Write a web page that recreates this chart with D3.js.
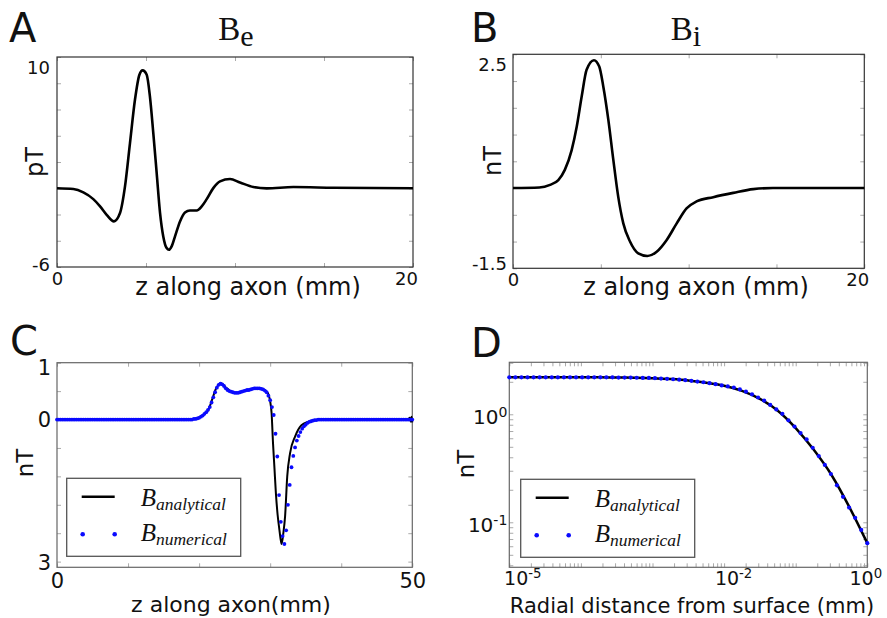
<!DOCTYPE html>
<html>
<head>
<meta charset="utf-8">
<script src="https://cdn.jsdelivr.net/npm/d3@7"></script>
<style>
  html, body { margin: 0; padding: 0; background: #fff; }
  svg { display: block; }
</style>
</head>
<body>
<svg id="fig" width="887" height="618"></svg>
<script>
// ---------- Panel A: extracellular field B_e along the axon (pT) ----------
const aZ  = [0, 0.92, 1.48, 2.04, 2.42, 2.79, 3.20, 3.54, 3.82, 4.10, 4.38, 4.63, 4.81,
             5.04, 5.22, 5.41, 5.60, 5.79, 5.97, 6.16, 6.29, 6.44, 6.63, 6.91, 7.19,
             7.47, 7.85, 8.13, 8.41, 8.78, 9.16, 9.72, 10.28, 11.03, 11.78, 13.28, 15.52, 20];
const aBe = [0, -0.06, -0.32, -0.83, -1.38, -2.02, -2.52, -1.89, 0.14, 3.44, 6.74, 8.65, 8.98,
             8.65, 7.0, 4.2, 1.16, -1.89, -3.67, -4.56, -4.69, -4.43, -3.67, -2.53, -1.84,
             -1.69, -1.69, -1.38, -0.83, 0.01, 0.52, 0.70, 0.44, 0.09, -0.01, 0.09, 0.04, 0];
const aXTicks = [0, 5, 10, 15, 20];
const aYTicks = [-6, -4, -2, 0, 2, 4, 6, 8, 10];
const aXLabels = ["0", "20"];
const aYLabels = ["-6", "10"];

// ---------- Panel B: intracellular field B_i along the axon (nT) ----------
const bZ  = [0, 1.5, 2.11, 2.58, 2.95, 3.34, 3.63, 3.91, 4.19, 4.61, 4.91, 5.14, 5.43, 5.71,
             5.99, 6.28, 6.66, 7.13, 7.65, 8.18, 8.75, 9.32, 9.88, 10.45, 11.4, 12.54, 13.68, 14.8, 20];
const bBi = [0, 0.01, 0.06, 0.15, 0.34, 0.71, 1.15, 1.71, 2.21, 2.39, 2.27, 1.90, 1.27, 0.53,
             -0.16, -0.66, -1.0, -1.22, -1.27, -1.19, -0.97, -0.66, -0.38, -0.25, -0.17, -0.09, -0.02, 0, 0];
const bXTicks = [0, 5, 10, 15, 20];
const bYTicks = [-1.5, -1, -0.5, 0, 0.5, 1, 1.5, 2, 2.5];
const bXLabels = ["0", "20"];
const bYLabels = ["-1.5", "2.5"];

// ---------- Panel C: analytical vs numerical field along a 50 mm axon (nT) ----------
const cZ = [0, 10, 17, 18.7, 19.6, 20.6, 21.3, 21.8, 22.4, 23.1,
            23.7, 24.4, 25.3, 26.3, 27.3, 28.1, 28.8, 29.3, 29.7, 30.0,
            30.2, 30.4, 30.6, 30.8, 31.05, 31.3, 31.6, 31.85, 32.1, 32.4,
            32.8, 33.5, 34.4, 35.4, 36.5, 38, 42, 46, 49.4, 49.65,
            49.8, 49.9, 50];
const cAnalytical = [0, 0, 0, 0, 0.02, 0.08, 0.17, 0.34, 0.55, 0.64,
            0.57, 0.50, 0.47, 0.50, 0.53, 0.55, 0.54, 0.51, 0.46, 0.32,
            0.11, -0.42, -0.85, -1.29, -1.68, -1.94, -2.19, -2.0, -1.70, -1.0,
            -0.59, -0.30, -0.10, -0.04, -0.01, 0, 0, 0, 0, 0.03,
            -0.04, 0.05, -0.05];
// numerical solution sampled every 0.25 mm from 0 to 50 mm
const cStep = 0.25;
const cNumerical = [
  0, 0, 0, 0, 0, 0, 0, 0, 0, 0, 0, 0, 0, 0, 0, 0, 0, 0, 0, 0,
  0, 0, 0, 0, 0, 0, 0, 0, 0, 0, 0, 0, 0, 0, 0, 0, 0, 0, 0, 0,
  0, 0, 0, 0, 0, 0, 0, 0, 0, 0, 0, 0, 0, 0, 0, 0, 0, 0, 0, 0,
  0, 0, 0, 0, 0, 0, 0, 0, 0, 0, 0, 0, 0, 0, 0, 0, 0, 0.01, 0.01, 0.02,
  0.03, 0.05, 0.07, 0.10, 0.13, 0.17, 0.22, 0.30, 0.39, 0.48, 0.56, 0.61, 0.63, 0.62, 0.59, 0.55, 0.52, 0.50, 0.49, 0.48,
  0.47, 0.47, 0.47, 0.48, 0.49, 0.50, 0.51, 0.52, 0.52, 0.53, 0.54, 0.55, 0.55, 0.55, 0.55, 0.54, 0.53, 0.51, 0.48, 0.42,
  0.34, 0.22, 0.08, -0.25, -0.65, -1.33, -1.80, -2.05, -2.19, -1.95, -1.50, -1.15, -0.84, -0.64, -0.49, -0.37, -0.29, -0.22, -0.16, -0.12,
  -0.09, -0.06, -0.04, -0.03, -0.02, -0.01, -0.01, 0, 0, 0, 0, 0, 0, 0, 0, 0, 0, 0, 0, 0,
  0, 0, 0, 0, 0, 0, 0, 0, 0, 0, 0, 0, 0, 0, 0, 0, 0, 0, 0, 0,
  0, 0, 0, 0, 0, 0, 0, 0, 0, 0, 0, 0, 0, 0, 0, 0, 0, 0, 0, 0, 0
];
const cXTicks = [0, 10, 20, 30, 40, 50];
const cYTicks = [-2.5, -2, -1.5, -1, -0.5, 0, 0.5, 1];
const cXLabels = ["0", "50"];
const cYLabels = ["3", "0", "1"];

// ---------- Panel D: field magnitude vs radial distance (log-log) ----------
// analytical curve every quarter decade, 10^-5 .. 10^0 mm
const dAnalytical = [2.20, 2.20, 2.20, 2.20, 2.20, 2.20, 2.19, 2.18, 2.16, 2.12, 2.06,
                     1.96, 1.84, 1.65, 1.39, 1.08, 0.746, 0.471, 0.274, 0.138, 0.064];
// numerical solution at 60 log-spaced radii, 10^-5 .. 10^0 mm
const dNumerical = [2.20, 2.20, 2.20, 2.20, 2.20, 2.20, 2.20, 2.20, 2.20, 2.20,
                    2.20, 2.20, 2.20, 2.20, 2.20, 2.20, 2.20, 2.20, 2.19, 2.19,
                    2.19, 2.18, 2.17, 2.17, 2.16, 2.14, 2.13, 2.11, 2.09, 2.07,
                    2.04, 2.01, 1.98, 1.94, 1.90, 1.85, 1.81, 1.77, 1.70, 1.62,
                    1.53, 1.43, 1.34, 1.22, 1.11, 1.01, 0.88, 0.77, 0.67, 0.585,
                    0.49, 0.41, 0.34, 0.28, 0.22, 0.172, 0.137, 0.110, 0.085, 0.064];
const dXMajor = [1e-5, 1e-4, 1e-3, 1e-2, 1e-1, 1];
const dXLabelValues = [1e-5, 1e-2, 1];
const dXExponents = ["-5", "-2", "0"];
const dYLabelValues = [0.1, 1];
const dYExponents = ["-1", "0"];

const seriesNames = ["analytical", "numerical"];
const panelLetters = ["A", "B", "C", "D"];
const axisTitles = ["z along axon (mm)", "z along axon (mm)", "z along axon(mm)", "Radial distance from surface (mm)"];
const unitTitles = ["pT", "nT", "nT", "nT"];

// ---------- drawing ----------
const SANS = "'DejaVu Sans', Verdana, sans-serif";
const SERIF = "'Liberation Serif', 'Times New Roman', serif";
const BLUE = "#0a0aff";
const svg = d3.select("#fig");

function frame(x, y, xt, yt, stroke) {
  const [x0, x1] = x.range();
  const [y1, y0] = y.range();
  const g = svg.append("g");
  const tick = (axis, tr) => g.append("g").attr("transform", tr).call(axis)
    .call(s => { s.select(".domain").remove(); s.selectAll("text").remove();
                 s.selectAll("line").attr("stroke", "#aaa").attr("stroke-width", 1); });
  tick(d3.axisBottom(x).tickValues(xt).tickSize(-4), `translate(0,${y1})`);
  tick(d3.axisTop(x).tickValues(xt).tickSize(-4), `translate(0,${y0})`);
  tick(d3.axisLeft(y).tickValues(yt).tickSize(-4), `translate(${x0},0)`);
  tick(d3.axisRight(y).tickValues(yt).tickSize(-4), `translate(${x1},0)`);
  g.append("rect").attr("x", x0).attr("y", y0).attr("width", x1 - x0).attr("height", y1 - y0)
    .attr("fill", "none").attr("stroke", stroke).attr("stroke-width", 1.2);
  return g;
}

function labelAxis(axis, tr, size, adjust) {
  const g = svg.append("g").attr("transform", tr).call(axis);
  g.select(".domain").remove();
  g.selectAll("line").remove();
  g.attr("font-family", SANS).attr("font-size", size);
  g.selectAll("text").attr("fill", "#111").each(function (d, i) { adjust(d3.select(this), d, i); });
  return g;
}

function yTitle(text, x, y, size) {
  svg.append("text").attr("transform", `translate(${x},${y}) rotate(-90)`)
    .attr("text-anchor", "middle").attr("font-family", SANS).attr("font-size", size)
    .attr("fill", "#111").text(text);
}
function xTitle(text, x, y, size) {
  svg.append("text").attr("x", x).attr("y", y).attr("text-anchor", "middle")
    .attr("font-family", SANS).attr("font-size", size).attr("fill", "#111").text(text);
}
function letter(t, x, y) {
  svg.append("text").attr("x", x).attr("y", y).attr("font-family", SANS)
    .attr("font-size", 40).attr("fill", "#111").text(t);
}
function title(sub, cx, y) {
  const t = svg.append("text").attr("x", cx).attr("y", y).attr("text-anchor", "middle")
    .attr("font-family", SERIF).attr("font-size", 33).attr("fill", "#111");
  t.append("tspan").text("B");
  t.append("tspan").attr("dy", 6).attr("font-size", 30).text(sub);
}
function mathLabel(g, x, y, sub) {
  const t = g.append("text").attr("x", x).attr("y", y).attr("font-family", SERIF)
    .attr("font-style", "italic").attr("fill", "#111").attr("font-size", 25);
  t.append("tspan").text("B");
  t.append("tspan").attr("dy", 4).attr("font-size", 17.5).text(sub);
}
function legend(x, y) {
  const g = svg.append("g");
  g.append("rect").attr("x", x).attr("y", y).attr("width", 174).attr("height", 78)
    .attr("fill", "#fff").attr("stroke", "#555").attr("stroke-width", 1.3);
  g.append("line").attr("x1", x + 15).attr("x2", x + 48).attr("y1", y + 18.5).attr("y2", y + 18.5)
    .attr("stroke", "#000").attr("stroke-width", 2.5);
  g.selectAll("circle").data([x + 16, x + 48]).join("circle")
    .attr("cx", d => d).attr("cy", y + 56).attr("r", 2.3).attr("fill", BLUE);
  mathLabel(g, x + 74, y + 28, seriesNames[0]);
  mathLabel(g, x + 74, y + 63, seriesNames[1]);
}

// ---- A ----
{
  const x = d3.scaleLinear([0, 20], [57, 413]);
  const y = d3.scaleLinear([-6, 10], [267, 57]);
  frame(x, y, aXTicks, aYTicks, "#333");
  svg.append("path").datum(aZ.map((z, i) => [z, aBe[i]]))
    .attr("d", d3.line().x(d => x(d[0])).y(d => y(d[1])).curve(d3.curveMonotoneX))
    .attr("fill", "none").attr("stroke", "#000").attr("stroke-width", 2.6);
  labelAxis(d3.axisBottom(x).tickValues([0, 20]).tickFormat((d, i) => aXLabels[i]).tickSize(0).tickPadding(5),
    "translate(0,267)", 18, (s, d) => { if (d === 20) s.attr("dx", -7); });
  labelAxis(d3.axisLeft(y).tickValues([-6, 10]).tickFormat((d, i) => aYLabels[i]).tickSize(0).tickPadding(7),
    "translate(57,0)", 18, (s, d) => s.attr("dy", d === 10 ? "0.9em" : "0.2em"));
  xTitle(axisTitles[0], 248, 295, 24);
  yTitle(unitTitles[0], 43, 162, 24);
  letter(panelLetters[0], 9, 42);
  title("e", 236, 40);
}

// ---- B ----
{
  const x = d3.scaleLinear([0, 20], [513, 864.3]);
  const y = d3.scaleLinear([-1.5, 2.5], [268.3, 54.3]);
  frame(x, y, bXTicks, bYTicks, "#333");
  svg.append("path").datum(bZ.map((z, i) => [z, bBi[i]]))
    .attr("d", d3.line().x(d => x(d[0])).y(d => y(d[1])).curve(d3.curveMonotoneX))
    .attr("fill", "none").attr("stroke", "#000").attr("stroke-width", 2.6);
  labelAxis(d3.axisBottom(x).tickValues([0, 20]).tickFormat((d, i) => bXLabels[i]).tickSize(0).tickPadding(5),
    "translate(0,268.3)", 18, (s, d) => { if (d === 20) s.attr("dx", -7); });
  labelAxis(d3.axisLeft(y).tickValues([-1.5, 2.5]).tickFormat((d, i) => bYLabels[i]).tickSize(0).tickPadding(6),
    "translate(513,0)", 18, (s, d) => s.attr("dy", d === 2.5 ? "0.9em" : "0.05em"));
  xTitle(axisTitles[1], 696, 295, 24);
  yTitle(unitTitles[1], 501, 161, 24);
  letter(panelLetters[1], 471, 42);
  title("i", 686, 40);
}

// ---- C ----
{
  const x = d3.scaleLinear([0, 50], [57, 412.3]);
  const y = d3.scaleLinear([-2.6, 1], [567.3, 362.7]);
  frame(x, y, cXTicks, cYTicks, "#666");
  svg.append("path").datum(cZ.map((z, i) => [z, cAnalytical[i]]))
    .attr("d", d3.line().x(d => x(d[0])).y(d => y(d[1])).curve(d3.curveMonotoneX))
    .attr("fill", "none").attr("stroke", "#000").attr("stroke-width", 2);
  svg.append("g").selectAll("circle").data(cNumerical).join("circle")
    .attr("cx", (d, i) => x(i * cStep)).attr("cy", d => y(d)).attr("r", 1.9).attr("fill", BLUE);
  labelAxis(d3.axisBottom(x).tickValues([0, 50]).tickFormat((d, i) => cXLabels[i]).tickSize(0).tickPadding(6),
    "translate(0,567.3)", 21, () => {});
  labelAxis(d3.axisLeft(y).tickValues([-2.6, 0, 1]).tickFormat((d, i) => cYLabels[i]).tickSize(0).tickPadding(6),
    "translate(57,0)", 21, (s, d) => s.attr("dy", d === 1 ? "0.55em" : d === -2.6 ? "0.1em" : "0.32em"));
  legend(66.7, 478.3);
  xTitle(axisTitles[2], 231, 612, 22);
  yTitle(unitTitles[2], 33, 463, 23);
  letter(panelLetters[2], 10, 355);
}

// ---- D ----
{
  const x = d3.scaleLog([1e-5, 1], [509.3, 867.3]);
  const y = d3.scaleLog([0.0383, 3.03], [567.3, 362.3]);
  const xMinor = dXMajor.slice(0, -1).flatMap(v => [2, 3, 4, 5, 6, 7, 8, 9].map(k => k * v));
  const yTicks = [0.04, 0.05, 0.06, 0.07, 0.08, 0.09, 0.1, 0.2, 0.3, 0.4, 0.5, 0.6, 0.7, 0.8, 0.9, 1, 2, 3];
  frame(x, y, dXMajor.concat(xMinor), yTicks, "#666");
  const aGrid = dAnalytical.map((v, i) => [Math.pow(10, -5 + i * 0.25), v]);
  svg.append("path").datum(aGrid)
    .attr("d", d3.line().x(d => x(d[0])).y(d => y(d[1])).curve(d3.curveMonotoneX))
    .attr("fill", "none").attr("stroke", "#000").attr("stroke-width", 2.5);
  const n = dNumerical.length;
  svg.append("g").selectAll("circle").data(dNumerical).join("circle")
    .attr("cx", (d, i) => x(Math.pow(10, -5 + i * 5 / (n - 1)))).attr("cy", d => y(d))
    .attr("r", 2.1).attr("fill", BLUE);
  const sup = (s, e) => {
    s.text(null);
    s.append("tspan").text("10");
    s.append("tspan").attr("dy", "-0.5em").attr("font-size", "0.7em").text(e);
  };
  labelAxis(d3.axisBottom(x).tickValues(dXLabelValues).tickFormat(() => "").tickSize(0).tickPadding(4),
    "translate(0,567.3)", 19, (s, d, i) => { sup(s, dXExponents[i]); s.attr("dx", [13, 9, -2][i]); });
  labelAxis(d3.axisLeft(y).tickValues(dYLabelValues).tickFormat(() => "").tickSize(0).tickPadding(2),
    "translate(509.3,0)", 20, (s, d, i) => { sup(s, dYExponents[i]); s.attr("dy", "0.45em"); });
  legend(520.7, 479.3);
  xTitle(axisTitles[3], 692, 612.5, 21);
  yTitle(unitTitles[3], 474, 464, 23);
  letter(panelLetters[3], 471, 357);
}
</script>
</body>
</html>
